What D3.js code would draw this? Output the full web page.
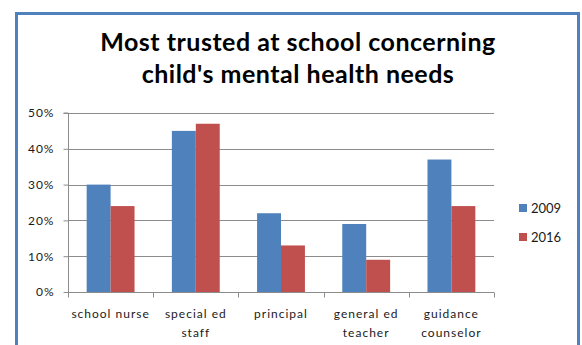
<!DOCTYPE html>
<html>
<head>
<meta charset="utf-8">
<script src="https://cdn.jsdelivr.net/npm/d3@7"></script>
<style>
  html, body { margin: 0; padding: 0; background: #fff; }
  svg { display: block; }
</style>
</head>
<body>
<svg id="chart" width="582" height="345"></svg>
<script>
// Survey: who parents trust most at school about a child's mental health needs
const categories = [["school nurse"], ["special ed", "staff"], ["principal"], ["general ed", "teacher"], ["guidance", "counselor"]];
const years = ["2009", "2016"];
const values2009 = [30, 45, 22, 19, 37];
const values2016 = [24, 47, 13, 9, 24];
const yTicks = [0, 10, 20, 30, 40, 50];
const colors = ["#4F81BD", "#C0504D"];

const svg = d3.select("#chart");
const font = "Lato, 'Open Sans', sans-serif";

// Outer chart frame
svg.append("rect")
  .attr("x", 16.5).attr("y", 13.5)
  .attr("width", 562).attr("height", 345)
  .attr("fill", "#fff").attr("stroke", "#4F81BD").attr("stroke-width", 3);

// Title
const title = svg.append("text")
  .attr("text-anchor", "middle")
  .attr("font-family", font).attr("font-weight", "bold")
  .attr("font-size", 25).attr("letter-spacing", 0.5).attr("fill", "#000");
title.append("tspan").attr("x", 298).attr("y", 51).text("Most trusted at school concerning");
title.append("tspan").attr("x", 298).attr("y", 83).text("child's mental health needs");

const plot = { left: 68, right: 494, top: 113, bottom: 292 };

const x0 = d3.scaleBand()
  .domain(d3.range(categories.length))
  .range([plot.left, plot.right])
  .paddingInner(0).paddingOuter(0);

const x1 = d3.scaleBand()
  .domain(years)
  .range([0, x0.bandwidth()])
  .paddingOuter(0.78).paddingInner(0);

const y = d3.scaleLinear().domain([0, 50]).range([plot.bottom, plot.top]);

// Horizontal gridlines
svg.append("g").selectAll("line")
  .data(yTicks.filter(t => t > 0))
  .join("line")
  .attr("x1", plot.left).attr("x2", plot.right)
  .attr("y1", d => Math.round(y(d)) + 0.5).attr("y2", d => Math.round(y(d)) + 0.5)
  .attr("stroke", "#8c8c8c").attr("stroke-width", 1);

// Bars
const series = [values2009, values2016];
const groups = svg.append("g").selectAll("g")
  .data(categories.map((c, i) => i))
  .join("g")
  .attr("transform", i => `translate(${x0(i)},0)`);

groups.selectAll("rect")
  .data(i => years.map((yr, s) => ({ yr, v: series[s][i], s })))
  .join("rect")
  .attr("x", d => x1(d.yr))
  .attr("width", x1.bandwidth())
  .attr("y", d => y(d.v))
  .attr("height", d => y(0) - y(d.v))
  .attr("fill", d => colors[d.s]);

// Y axis
const yAxis = d3.axisLeft(y)
  .tickValues(yTicks)
  .tickSize(5)
  .tickFormat(d => d + "%");
const gy = svg.append("g")
  .attr("transform", `translate(${plot.left + 0.5},0)`)
  .call(yAxis);
gy.select(".domain").attr("stroke", "#8c8c8c").attr("d", `M-5,${plot.top}H0V${plot.bottom}`);
gy.selectAll(".tick line").attr("stroke", "#8c8c8c");
gy.selectAll(".tick text")
  .attr("font-family", font).attr("font-size", 12).attr("letter-spacing", 1)
  .attr("fill", "#1a1a1a")
  .attr("x", -14);

// X axis
const xTickScale = d3.scaleLinear().domain([0, categories.length]).range([plot.left, plot.right]);
const gx = svg.append("g")
  .attr("transform", `translate(0,${plot.bottom + 0.5})`);
gx.append("line")
  .attr("x1", plot.left).attr("x2", plot.right)
  .attr("stroke", "#8c8c8c");
gx.selectAll("line.tick")
  .data(d3.range(categories.length + 1))
  .join("line").attr("class", "tick")
  .attr("x1", d => Math.round(xTickScale(d)) + 0.5).attr("x2", d => Math.round(xTickScale(d)) + 0.5)
  .attr("y1", 0).attr("y2", 5)
  .attr("stroke", "#8c8c8c");

const labels = gx.selectAll("text")
  .data(categories.map((c, i) => ({ c, i })))
  .join("text")
  .attr("text-anchor", "middle")
  .attr("font-family", font).attr("font-size", 12).attr("letter-spacing", 1)
  .attr("fill", "#1a1a1a");
labels.each(function(d) {
  const t = d3.select(this);
  d.c.forEach((line, k) => {
    t.append("tspan")
      .attr("x", x0(d.i) + x0.bandwidth() / 2)
      .attr("y", 25 + k * 19)
      .text(line);
  });
});

// Legend
const legend = svg.append("g").attr("transform", "translate(519,204)");
years.forEach((yr, s) => {
  const g = legend.append("g").attr("transform", `translate(0,${s * 29})`);
  g.append("rect").attr("width", 8).attr("height", 8).attr("fill", colors[s]);
  g.append("text")
    .attr("x", 12).attr("y", 9)
    .attr("font-family", font).attr("font-size", 13).attr("fill", "#1a1a1a")
    .text(yr);
});
</script>
</body>
</html>
